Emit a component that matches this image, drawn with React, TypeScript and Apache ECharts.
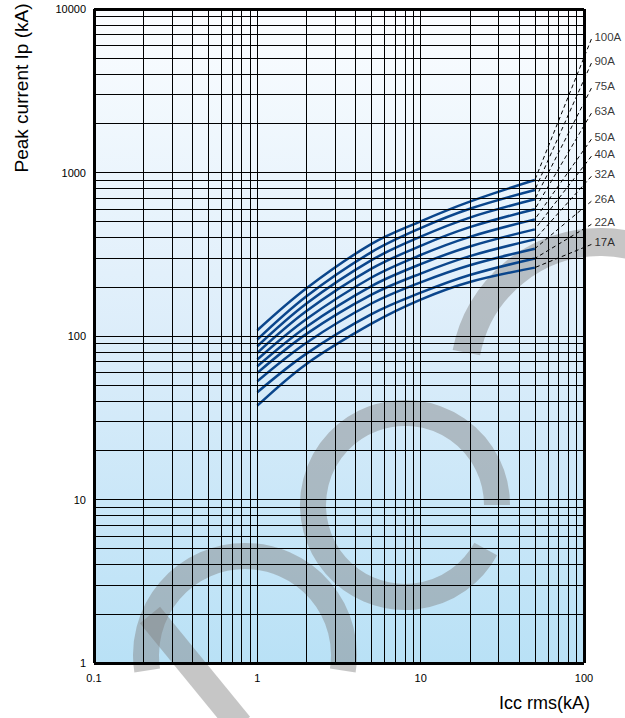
import React, { useEffect, useRef } from "react";
import * as echarts from "echarts";

// Fuse ratings (top curve first)
const ratings = ["100A", "90A", "75A", "63A", "50A", "40A", "32A", "26A", "22A", "17A"];
// Prospective short-circuit current (kA rms) where curves are sampled
const iccPoints = [1, 2, 5, 10, 20, 50];
// Peak let-through current (kA) per rating
const curve100A = [108.5, 196, 366, 503, 664, 900];
const curve90A = [95.2, 175, 326, 457, 600, 781];
const curve75A = [86.6, 158, 291, 405, 530, 686];
const curve63A = [78.9, 142, 258, 356, 463, 596];
const curve50A = [71.8, 127, 228, 313, 404, 517];
const curve40A = [65.3, 114, 202, 275, 353, 449];
const curve32A = [59.5, 103, 179, 241, 308, 390];
const curve26A = [52.9, 91, 158, 213, 271, 342];
const curve22A = [45.3, 78, 136, 184, 236, 298];
const curve17A = [37.5, 67.5, 119, 167, 214, 262];
const curves = [curve100A, curve90A, curve75A, curve63A, curve50A, curve40A, curve32A, curve26A, curve22A, curve17A];
// Dashed extrapolation end points (slightly beyond the 100 kA border)
const extrapolationEndIcc = 111;
const extrapolationEndIp = [6549, 4670, 3282, 2307, 1598, 1258, 948, 667, 482, 363];

// Axis ticks (decades) and minor grid multipliers
const xDecades = [0.1, 1, 10, 100];
const yDecades = [1, 10, 100, 1000, 10000];
const minorMultipliers = [2, 3, 4, 5, 6, 7, 8, 9];

const FONT = "'Liberation Sans', Arial, Helvetica, sans-serif";

export default function App() {
  const ref = useRef<HTMLDivElement>(null);
  useEffect(() => {
    if (!ref.current) return;
    const chart = echarts.init(ref.current, undefined, { renderer: "svg" });

    const xGrid: number[] = [];
    xDecades.forEach((d, i) => {
      xGrid.push(d);
      if (i < xDecades.length - 1) minorMultipliers.forEach((m) => xGrid.push(+(d * m).toPrecision(6)));
    });
    const yGrid: number[] = [];
    yDecades.forEach((d, i) => {
      yGrid.push(d);
      if (i < yDecades.length - 1) minorMultipliers.forEach((m) => yGrid.push(d * m));
    });

    const markBase = {
      silent: true,
      symbol: ["none", "none"],
      label: { show: false },
      emphasis: { disabled: true },
      animation: false,
    };

    const watermark = "rgba(128,128,128,0.45)";

    const series: any[] = [
      {
        type: "line",
        data: [],
        z: 2,
        markLine: {
          ...markBase,
          lineStyle: { color: "#000", width: 1, type: "solid", opacity: 1 },
          data: [
            ...xGrid.map((v) => ({ xAxis: v })),
            ...yGrid.map((v) => ({ yAxis: v })),
          ],
        },
      },
    ];

    ratings.forEach((name, i) => {
      series.push({
        name,
        type: "line",
        smooth: 0.35,
        symbol: "none",
        z: 4,
        lineStyle: { color: "#0b468c", width: 2.5 },
        data: iccPoints.map((x, j) => [x, curves[i][j]]),
      });
    });

    // Dashed extrapolations, drawn from the label end back to the curve end
    series.push({
      type: "custom",
      clip: false,
      silent: true,
      z: 4,
      encode: { x: [0, 2], y: [1, 3] },
      data: ratings.map((_, i) => [
        extrapolationEndIcc,
        extrapolationEndIp[i],
        iccPoints[iccPoints.length - 1],
        curves[i][curves[i].length - 1],
      ]),
      renderItem: (_params: any, api: any) => {
        const p0 = api.coord([api.value(0), api.value(1)]);
        const p1 = api.coord([api.value(2), api.value(3)]);
        return {
          type: "line",
          silent: true,
          shape: { x1: p0[0], y1: p0[1], x2: p1[0], y2: p1[1] },
          style: { stroke: "#000", lineWidth: 1, lineDash: [4, 3], fill: null },
        };
      },
    });

    series.push({
      type: "scatter",
      clip: false,
      symbol: "circle",
      symbolSize: 0,
      silent: true,
      z: 5,
      data: ratings.map((name, i) => ({ name, value: [extrapolationEndIcc, extrapolationEndIp[i]] })),
      label: {
        show: true,
        position: "right",
        distance: 3,
        offset: [0, -2],
        formatter: (p: any) => p.name,
        color: "#000",
        fontSize: 11.5,
        fontFamily: FONT,
      },
    });

    series.push({
      type: "line",
      data: [],
      z: 6,
      markLine: {
        ...markBase,
        lineStyle: { color: "#000", width: 3, type: "solid", opacity: 1 },
        data: [
          { xAxis: xDecades[0] },
          { xAxis: xDecades[xDecades.length - 1] },
          { yAxis: yDecades[0] },
          { yAxis: yDecades[yDecades.length - 1] },
        ],
      },
    });

    chart.setOption({
      animation: false,
      grid: {
        left: 94,
        top: 9,
        width: 490,
        height: 654,
        show: true,
        borderWidth: 0,
        backgroundColor: new echarts.graphic.LinearGradient(0, 0, 0, 1, [
          { offset: 0, color: "#fbfdff" },
          { offset: 0.5, color: "#dcedfa" },
          { offset: 1, color: "#b9e1f6" },
        ]),
      },
      xAxis: {
        type: "log",
        logBase: 10,
        min: xDecades[0],
        max: xDecades[xDecades.length - 1],
        axisLine: { show: false },
        axisTick: { show: false },
        splitLine: { show: false },
        axisLabel: {
          color: "#000",
          fontSize: 11,
          fontFamily: FONT,
          margin: 9,
          formatter: (v: number) => (v < 1 ? v.toFixed(1) : String(Math.round(v))),
        },
      },
      yAxis: {
        type: "log",
        logBase: 10,
        min: yDecades[0],
        max: yDecades[yDecades.length - 1],
        axisLine: { show: false },
        axisTick: { show: false },
        splitLine: { show: false },
        axisLabel: {
          color: "#000",
          fontSize: 11,
          fontFamily: FONT,
          margin: 8,
          formatter: (v: number) => String(Math.round(v)),
        },
      },
      graphic: [
        {
          type: "arc",
          z: 1,
          silent: true,
          shape: { cx: 245, cy: 655, r: 99, startAngle: Math.PI * 0.95, endAngle: Math.PI * 2.05, clockwise: true },
          style: { stroke: watermark, lineWidth: 26, fill: "none" },
        },
        {
          type: "line",
          z: 1,
          silent: true,
          shape: { x1: 150, y1: 615, x2: 240, y2: 725 },
          style: { stroke: watermark, lineWidth: 26 },
        },
        {
          type: "arc",
          z: 1,
          silent: true,
          shape: { cx: 405, cy: 505, r: 92, startAngle: 0.5, endAngle: Math.PI * 2, clockwise: true },
          style: { stroke: watermark, lineWidth: 26, fill: "none" },
        },
        {
          type: "arc",
          z: 1,
          silent: true,
          shape: { cx: 600, cy: 378, r: 136, startAngle: Math.PI * 1.06, endAngle: Math.PI * 1.95, clockwise: true },
          style: { stroke: watermark, lineWidth: 28, fill: "none" },
        },
        {
          type: "text",
          z: 10,
          x: 21,
          y: 88,
          rotation: Math.PI / 2,
          style: {
            text: "Peak current Ip (kA)",
            fontSize: 19,
            fontFamily: FONT,
            fill: "#000",
            textAlign: "center",
            textVerticalAlign: "middle",
            align: "center",
            verticalAlign: "middle",
          },
        },
        {
          type: "text",
          z: 10,
          x: 590,
          y: 703,
          style: {
            text: "Icc rms(kA)",
            fontSize: 18,
            fontFamily: FONT,
            fill: "#000",
            textAlign: "right",
            textVerticalAlign: "middle",
            align: "right",
            verticalAlign: "middle",
          },
        },
      ],
      series,
    });

    return () => chart.dispose();
  }, []);

  return (
    <div
      ref={ref}
      style={{ position: "absolute", left: 0, top: 0, width: 625, height: 718 }}
    />
  );
}
